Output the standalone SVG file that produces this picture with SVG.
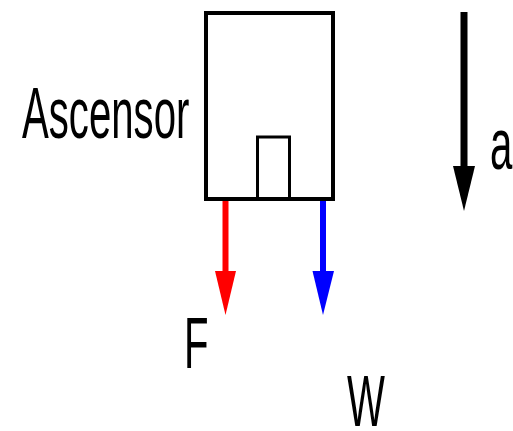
<svg xmlns="http://www.w3.org/2000/svg" width="513" height="431" viewBox="0 0 513 431">
<style>
.lbl{font-family:"Liberation Sans",Arial,sans-serif;font-size:73px;fill:#000}
</style>
<rect width="513" height="431" fill="#fff"/>
<g id="ascensor">
<rect x="206" y="13" width="127" height="186" fill="#fff" stroke="#000" stroke-width="4"/>
<polyline points="257.5,198 257.5,137 289.5,137 289.5,198" fill="none" stroke="#000" stroke-width="3"/>
</g>
<g id="label-ascensor"><text class="lbl" transform="translate(22,138) scale(0.55,1)">Ascensor</text></g>
<g id="connectors">
<line x1="225.5" y1="201" x2="225.5" y2="272" stroke="#ff0000" stroke-width="6"/>
<polygon points="215,271 236,271 225.5,315" fill="#ff0000"/>
<line x1="323" y1="201" x2="323" y2="272" stroke="#0000ff" stroke-width="6"/>
<polygon points="312.5,271 334,271 323,315" fill="#0000ff"/>
<line x1="464" y1="12" x2="464" y2="167" stroke="#000" stroke-width="7"/>
<polygon points="453,166 475,166 464,211" fill="#000"/>
</g>
<g id="label-F"><text class="lbl" transform="translate(184,368) scale(0.55,1)">F</text></g>
<g id="label-W"><text class="lbl" transform="translate(347,426) scale(0.55,1)">W</text></g>
<g id="label-a"><text class="lbl" transform="translate(490,169) scale(0.55,1)">a</text></g>
</svg>
